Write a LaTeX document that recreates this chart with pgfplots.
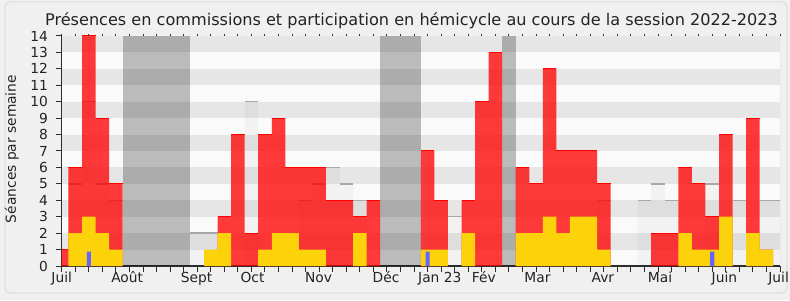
\documentclass[border=0pt]{standalone}
\usepackage{fontspec}
\setmainfont{DejaVu Sans}
\usepackage{pgfplots}
\pgfplotsset{compat=1.18}
\definecolor{bgc}{RGB}{240,240,240}
\definecolor{framec}{RGB}{220,220,220}
\definecolor{lightband}{RGB}{250,250,250}
\definecolor{darkband}{RGB}{230,230,230}
\definecolor{graytop}{RGB}{168,168,168}
\definecolor{yel}{RGB}{252,210,10}
\definecolor{blu}{RGB}{100,100,255}
\definecolor{axc}{RGB}{45,45,45}
\definecolor{txt}{RGB}{35,35,35}
\definecolor{rightline}{RGB}{200,200,200}
\begin{document}
\begin{tikzpicture}[x=1pt,y=1pt]
\fill[bgc] (0,0) rectangle (790,300);
\draw[framec, rounded corners=5pt, line width=1pt] (5,7) rectangle (787,298);
\node[anchor=base, text=txt, font=\fontsize{16.1}{19}\selectfont] at (411.5,274.3) {Présences en commissions et participation en hémicycle au cours de la session 2022-2023};
\node[rotate=90, text=txt, font=\fontsize{13.8}{16}\selectfont] at (11.7,151) {Séances par semaine};
\begin{axis}[
  at={(61.7pt,34pt)}, anchor=south west, scale only axis,
  width=718.3pt, height=230pt,
  xmin=0, xmax=53, ymin=0, ymax=14,
  axis background/.style={fill=lightband},
  axis lines*=left,
  axis line style={draw=axc, line width=1.2pt, -},
  tick align=outside,
  major tick length=5.5pt,
  tick style={axc, line width=1pt},
  xtick={0,...,53}, xticklabels={},
  ytick={0,...,14},
  extra x ticks={0,4.83,9.96,14.08,18.95,23.93,27.9,31.15,35.1,39.93,44.15,48.9,52.9},
  extra x tick labels={Juil,Août,Sept,Oct,Nov,Déc,Jan 23,Fév,Mar,Avr,Mai,Juin,Juil},
  extra x tick style={major tick length=0pt},
  xticklabel style={font=\fontsize{13.8}{16}\selectfont, text=txt, inner sep=0pt, text height=10pt, text depth=3pt, yshift=-6pt},
  yticklabel style={font=\fontsize{13.8}{16}\selectfont, text=txt, inner sep=0pt, xshift=-8pt},
  /pgf/number format/assume math mode=true,
  clip marker paths=true,
]
% background stripes
\fill[darkband] (axis cs:0,1) rectangle (axis cs:53,2);
\fill[darkband] (axis cs:0,3) rectangle (axis cs:53,4);
\fill[darkband] (axis cs:0,5) rectangle (axis cs:53,6);
\fill[darkband] (axis cs:0,7) rectangle (axis cs:53,8);
\fill[darkband] (axis cs:0,9) rectangle (axis cs:53,10);
\fill[darkband] (axis cs:0,11) rectangle (axis cs:53,12);
\fill[darkband] (axis cs:0,13) rectangle (axis cs:53,14);
% vacations
\addplot[fill=black, fill opacity=0.25, draw=none] coordinates {(4.5,14) (9.5,14)} \closedcycle;
\addplot[fill=black, fill opacity=0.25, draw=none] coordinates {(23.5,14) (26.5,14)} \closedcycle;
\addplot[fill=black, fill opacity=0.25, draw=none] coordinates {(32.5,14) (33.5,14)} \closedcycle;
% hemicycle (gray)
\addplot[ybar, bar width=1, bar shift=0pt, fill=black, fill opacity=0.03, draw=none] coordinates {
(1,5)(2,10)(3,5)(4,4)(10,2)(11,2)(14,10)(18,4)(19,5)(20,6)(21,5)(22,4)(29,3)(40,4)(43,4)(44,5)(45,4)(48,5)(50,4)(52,4)(53,4)};
\addplot[only marks, mark=-, mark size=6.775pt, mark options={draw=graytop, line width=1.5pt}] coordinates {
(1,5)(2,10)(3,5)(4,4)(10,2)(11,2)(14,10)(18,4)(19,5)(20,6)(21,5)(22,4)(29,3)(40,4)(43,4)(44,5)(45,4)(48,5)(50,4)(52,4)(53,4)};
% presences (red)
\addplot[ybar, bar width=1, bar shift=0pt, fill=red, fill opacity=0.77, draw=none] coordinates {
(0,1)(1,6)(2,14)(3,9)(4,5)(12,3)(13,8)(14,2)(15,8)(16,9)(17,6)(18,6)(19,6)(20,4)(21,4)(22,3)(23,4)(27,7)(28,4)(30,4)(31,10)(32,13)(34,6)(35,5)(36,12)(37,7)(38,7)(39,7)(40,5)(44,2)(45,2)(46,6)(47,5)(48,3)(49,8)(51,9)(52,1)};
\addplot[only marks, mark=-, mark size=6.775pt, mark options={draw=red, line width=1pt}] coordinates {
(0,1)(1,6)(2,14)(3,9)(4,5)(12,3)(13,8)(14,2)(15,8)(16,9)(17,6)(18,6)(19,6)(20,4)(21,4)(22,3)(23,4)(27,7)(28,4)(30,4)(31,10)(32,13)(34,6)(35,5)(36,12)(37,7)(38,7)(39,7)(40,5)(44,2)(45,2)(46,6)(47,5)(48,3)(49,8)(51,9)};
% participation (yellow)
\addplot[ybar, bar width=1, bar shift=0pt, fill=yel, draw=none] coordinates {
(1,2)(2,3)(3,2)(4,1)(11,1)(12,2)(15,1)(16,2)(17,2)(18,1)(19,1)(22,2)(27,1)(28,1)(30,2)(34,2)(35,2)(36,3)(37,2)(38,3)(39,3)(40,1)(46,2)(47,1)(48,1)(49,3)(51,2)(52,1)};
% questions (blue)
\addplot[ybar, bar width=0.3, bar shift=0pt, fill=blu, draw=none] coordinates {
(2,0.87)(27,0.87)(48,0.87)};
\draw[rightline, line width=1pt] (rel axis cs:1,0) -- (rel axis cs:1,1);
\end{axis}
\begin{axis}[
  at={(61.7pt,34pt)}, anchor=south west, scale only axis,
  width=718.3pt, height=230pt,
  xmin=0, xmax=53, ymin=0, ymax=14,
  axis line style={draw=none},
  xtick={0,...,53}, xticklabels={}, xtick pos=upper,
  ytick=\empty,
  tick align=outside, major tick length=1.5pt,
  tick style={axc, line width=1pt},
]
\end{axis}
\pgfresetboundingbox
\path[use as bounding box] (0,0) rectangle (790,300);
\end{tikzpicture}
\end{document}
